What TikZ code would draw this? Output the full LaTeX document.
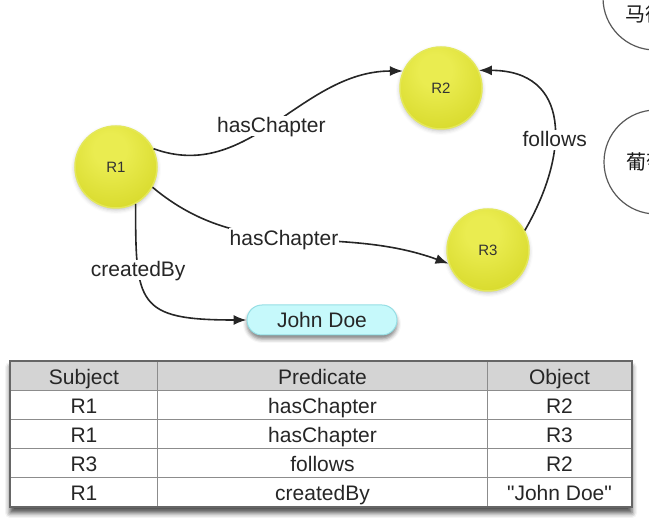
\documentclass[tikz,border=0pt]{standalone}
\usepackage{fontspec}
\setmainfont{Liberation Sans}
\newfontfamily\cjk{Noto Sans CJK SC}
\usetikzlibrary{arrows.meta,shadows.blur,matrix,backgrounds}

\definecolor{ballhi}{RGB}{234,236,80}
\definecolor{ballmid}{RGB}{212,214,36}
\definecolor{balldark}{RGB}{176,178,14}
\definecolor{ballrim}{RGB}{228,232,90}
\definecolor{litfill}{RGB}{198,249,251}
\definecolor{litrim}{RGB}{150,222,228}
\definecolor{headgray}{RGB}{212,212,212}
\definecolor{cellline}{RGB}{140,140,140}

\pgfdeclareradialshading{yellowball}{\pgfpoint{-4bp}{12bp}}{color(0bp)=(ballhi); color(10bp)=(ballhi); color(40bp)=(ballmid); color(62bp)=(balldark); color(90bp)=(balldark)}

\newcommand{\bigfont}{\fontsize{21}{23}\selectfont}

\tikzset{
  resource/.style={circle, minimum size=82pt, inner sep=0pt, shade, shading=yellowball,
    draw=ballrim, line width=1.5pt, font=\fontsize{15}{15}\selectfont, text=black!80,
    blur shadow={shadow xshift=0pt, shadow yshift=-2pt, shadow opacity=25, shadow blur radius=4pt}},
  literal/.style={rounded corners=15pt, minimum width=150pt, minimum height=30pt, fill=litfill,
    draw=litrim, line width=1pt, font=\bigfont, text=black!85,
    blur shadow={shadow xshift=0pt, shadow yshift=-4pt, shadow opacity=50, shadow blur radius=4pt}},
  city/.style={circle, minimum size=104pt, inner sep=0pt, draw=black!65, line width=1.2pt, fill=white},
  citytext/.style={font=\cjk\fontsize{20}{20}\selectfont, text=black!90},
  link/.style={line width=1.6pt, draw=black!85, -{Latex[length=13pt,width=10pt]}},
  edgelabel/.style={fill=white, inner sep=1pt, text height=16pt, text depth=2pt, font=\bigfont, text=black!85}
}

\begin{document}
\begin{tikzpicture}[x=1pt,y=1pt]
\useasboundingbox (0,0) rectangle (649,528);

% the two cut-off circles on the right
\begin{scope}
  \clip (0,0) rectangle (649,528);
  \node[city] (madrid) at (655,530) {};
  \node[citytext] (madridtext) at (655,514) {马德里};
  \node[city] (portugal) at (656,366) {};
  \node[citytext] (portugaltext) at (656,366) {葡萄牙};
\end{scope}

% resources
\node[resource] (R1) at (116,361) {R1};
\node[resource] (R2) at (441,440) {R2};
\node[resource] (R3) at (488,278) {R3};
\node[literal] (jd) at (322,208) {John Doe};

% statements
\draw[link] (R1.26) to[out=-20,in=180] node[edgelabel,pos=0.48] {hasChapter} (R2.156);
\draw[link] (R1.-29) to[out=-40,in=160] node[edgelabel,pos=0.47] {hasChapter} (R3.199);
\draw[link] (R3.28) to[out=60,in=0,looseness=1.4] node[edgelabel,pos=0.4] {follows} (R2.25);
\draw[link] (R1.-62) .. controls +(0,-100) and +(-110,0) .. (jd.west)
  node[edgelabel,pos=0.28] {createdBy};

% triple table
\matrix (triples) at (321,94) [matrix of nodes, row sep=-1pt, column sep=-1pt,
  nodes={draw=cellline, line width=1pt, minimum height=29pt, inner sep=0pt,
    text height=18pt, text depth=0pt, font=\bigfont, text=black!85, anchor=center},
  column 1/.style={nodes={minimum width=147pt}},
  column 2/.style={nodes={minimum width=330pt}},
  column 3/.style={nodes={minimum width=144pt}},
  row 1/.style={nodes={fill=headgray}}]
{
  Subject & Predicate & Object \\
  R1 & hasChapter & R2 \\
  R1 & hasChapter & R3 \\
  R3 & follows & R2 \\
  R1 & createdBy & \textquotedbl John Doe\textquotedbl \\
};
\begin{scope}[on background layer]
  \fill[white, blur shadow={shadow xshift=0pt, shadow yshift=-6pt, shadow opacity=70, shadow blur radius=5pt}]
    (triples-1-1.north west) rectangle (triples-5-3.south east);
\end{scope}
\draw[black!60, line width=1.3pt] (triples-1-1.north west) rectangle (triples-5-3.south east);
\end{tikzpicture}
\end{document}
